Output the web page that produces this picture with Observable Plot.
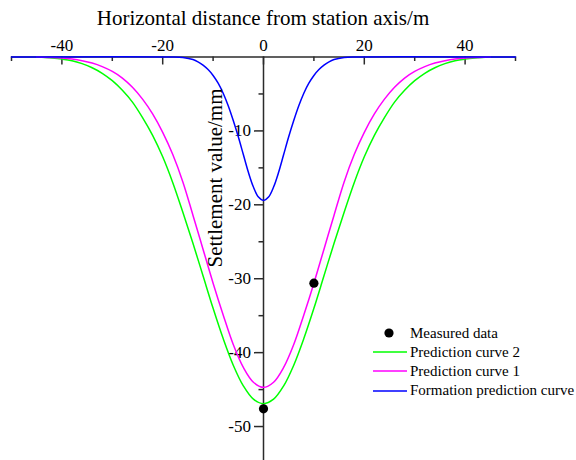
<!DOCTYPE html>
<html><head><meta charset="utf-8">
<script src="https://cdn.jsdelivr.net/npm/d3@7"></script>
<script src="https://cdn.jsdelivr.net/npm/@observablehq/plot@0.6"></script>
<style>
html,body{margin:0;padding:0;background:#fff;overflow:hidden}
#wrap{position:relative;width:576px;height:460px;overflow:hidden;font-family:"Liberation Serif","Times New Roman",serif;color:#000}
#wrap > svg{position:absolute;left:0;top:0}
#title{position:absolute;left:263px;top:29px;transform:translate(-50%,-100%);font-family:"Liberation Serif",serif;font-size:21px;line-height:1;white-space:nowrap}
#ylab{position:absolute;left:215px;top:178px;transform:translate(-50%,-50%) rotate(-90deg);font-family:"Liberation Serif",serif;font-size:21px;line-height:1;white-space:nowrap}
#legend{position:absolute;left:373px;top:323.5px;font-family:"Liberation Serif",serif;font-size:15px;white-space:nowrap}
#legend .row{height:19.2px;display:flex;align-items:center}
#legend .row span{font-family:"Liberation Serif",serif}
#legend .row svg{position:static;flex:none;margin-right:3px;display:block}
</style>
</head><body>
<div id="wrap"></div>
<script>
// ---- data ----
const xDomain = [-50, 50];
const yDomain = [-55, 0];
const xMajor = [-40, -20, 0, 20, 40];
const xMajorLabels = ["-40", "-20", "0", "20", "40"];
const xMinor = [-50, -30, -10, 10, 30, 50];
const yMajor = [-10, -20, -30, -40, -50];
const yMajorLabels = ["-10", "-20", "-30", "-40", "-50"];
const yMinor = [-5, -15, -25, -35, -45];

const xTitle = "Horizontal distance from station axis/m";
const yTitle = "Settlement value/mm";

const seriesNames = ["Measured data", "Prediction curve 2", "Prediction curve 1", "Formation prediction curve"];
const seriesColors = ["#000000", "#00ff00", "#ff00ff", "#0000ff"];

const measuredX = [0, 10];
const measuredY = [-47.6, -30.6];

const predX = [-45,-44,-42,-40,-38,-36,-34,-32,-30,-28,-26,-24,-22,-20,-18,-16,-14,-12,-10,-8,-6,-4,-2,0,
               2,4,6,8,10,12,14,16,18,20,22,24,26,28,30,32,34,36,38,40,42,44,45];
const pred2Y = [0,-0.05,-0.14,-0.28,-0.5,-0.9,-1.45,-2.2,-3.2,-4.5,-6.1,-8.2,-10.6,-13.5,-17.0,-21.0,-25.2,-29.6,-34.0,-38.1,-41.7,-44.5,-46.3,-46.9,
                -46.3,-44.5,-41.7,-38.1,-34.0,-29.6,-25.2,-21.0,-17.0,-13.5,-10.6,-8.2,-6.1,-4.5,-3.2,-2.2,-1.45,-0.9,-0.5,-0.28,-0.14,-0.05,0];
const pred1Y = [0,-0.02,-0.07,-0.15,-0.28,-0.5,-0.82,-1.3,-1.95,-2.85,-4.1,-5.7,-7.7,-10.2,-13.2,-16.9,-21.4,-26.0,-30.6,-34.9,-38.9,-42.0,-44.0,-44.7,
                -44.0,-42.0,-38.9,-34.9,-30.6,-26.0,-21.4,-16.9,-13.2,-10.2,-7.7,-5.7,-4.1,-2.85,-1.95,-1.3,-0.82,-0.5,-0.28,-0.15,-0.07,-0.02,0];

const formX = [-50,-18,-16,-14,-13,-12,-11,-10,-9,-8,-7,-6,-5,-4,-3,-2,-1,0,
               1,2,3,4,5,6,7,8,9,10,11,12,13,14,16,18,50];
const formY = [0,0,-0.08,-0.35,-0.65,-1.1,-1.7,-2.5,-3.55,-4.9,-6.6,-8.6,-10.8,-13.2,-15.6,-17.6,-18.95,-19.4,
               -18.95,-17.6,-15.6,-13.2,-10.8,-8.6,-6.6,-4.9,-3.55,-2.5,-1.7,-1.1,-0.65,-0.35,-0.08,0,0];

// ---- build tables ----
const measured = measuredX.map((x, i) => ({x, y: measuredY[i]}));
const pred2 = predX.map((x, i) => ({x, y: pred2Y[i]}));
const pred1 = predX.map((x, i) => ({x, y: pred1Y[i]}));
const form = formX.map((x, i) => ({x, y: formY[i]}));

const W = 576, H = 460;
const xRange = [11, 515];
const yRange = [463, 56.5];
const pxPerX = (xRange[1] - xRange[0]) / (xDomain[1] - xDomain[0]);
const pxPerY = (yRange[0] - yRange[1]) / (yDomain[1] - yDomain[0]);
const majorLen = 8, minorLen = 4.5;
const axisColor = "#2b2b2b";
const font = '"Liberation Serif","Times New Roman",serif';

const plot = Plot.plot({
  width: W, height: H,
  marginTop: 0, marginBottom: 0, marginLeft: 0, marginRight: 0,
  x: {domain: xDomain, range: xRange, axis: null},
  y: {domain: yDomain, range: yRange, axis: null},
  style: {fontFamily: font, background: "transparent", color: "#000", overflow: "hidden"},
  marks: [
    // axes lines
    Plot.ruleY([0], {x1: xDomain[0], x2: xDomain[1], stroke: axisColor, strokeWidth: 1.5}),
    Plot.ruleX([0], {y1: yDomain[0], y2: yDomain[1], stroke: axisColor, strokeWidth: 1.5}),
    // x ticks (pointing down from the top axis)
    Plot.ruleX(xMajor, {x: d => d, y1: 0, y2: -majorLen / pxPerY, stroke: axisColor, strokeWidth: 1.5}),
    Plot.ruleX(xMinor, {x: d => d, y1: 0, y2: -minorLen / pxPerY, stroke: axisColor, strokeWidth: 1.5}),
    // y ticks (pointing left)
    Plot.ruleY(yMajor, {y: d => d, x1: -9 / pxPerX, x2: 0, stroke: axisColor, strokeWidth: 1.5}),
    Plot.ruleY(yMinor, {y: d => d, x1: -minorLen / pxPerX, x2: 0, stroke: axisColor, strokeWidth: 1.5}),
    // tick labels
    Plot.text(xMajor, {x: d => d, y: 0, text: (d, i) => xMajorLabels[i], dy: -6.5, lineAnchor: "bottom", fontSize: 17, fontFamily: font, fill: "#000"}),
    Plot.text(yMajor, {x: 0, y: d => d, text: (d, i) => yMajorLabels[i], dx: -12.5, textAnchor: "end", fontSize: 17, fontFamily: font, fill: "#000"}),
    // curves
    Plot.line(pred2, {x: "x", y: "y", stroke: seriesColors[1], strokeWidth: 1.5, curve: "catmull-rom"}),
    Plot.line(pred1, {x: "x", y: "y", stroke: seriesColors[2], strokeWidth: 1.5, curve: "catmull-rom"}),
    Plot.line(form, {x: "x", y: "y", stroke: seriesColors[3], strokeWidth: 1.5, curve: "catmull-rom"}),
    // measured
    Plot.dot(measured, {x: "x", y: "y", r: 4.6, fill: seriesColors[0], stroke: "none"})
  ]
});

const wrap = document.getElementById("wrap");
wrap.appendChild(plot);

const t = document.createElement("div"); t.id = "title"; t.textContent = xTitle; wrap.appendChild(t);
const yl = document.createElement("div"); yl.id = "ylab"; yl.textContent = yTitle; wrap.appendChild(yl);

const leg = document.createElement("div"); leg.id = "legend";
seriesNames.forEach((name, i) => {
  const row = document.createElement("div"); row.className = "row";
  const sw = i === 0
    ? `<svg width="34" height="12"><circle cx="16" cy="6" r="4.6" fill="${seriesColors[i]}"/></svg>`
    : `<svg width="34" height="12"><line x1="0" x2="34" y1="6" y2="6" stroke="${seriesColors[i]}" stroke-width="1.5"/></svg>`;
  row.innerHTML = sw + `<span>${name}</span>`;
  leg.appendChild(row);
});
wrap.appendChild(leg);
</script>
</body></html>
